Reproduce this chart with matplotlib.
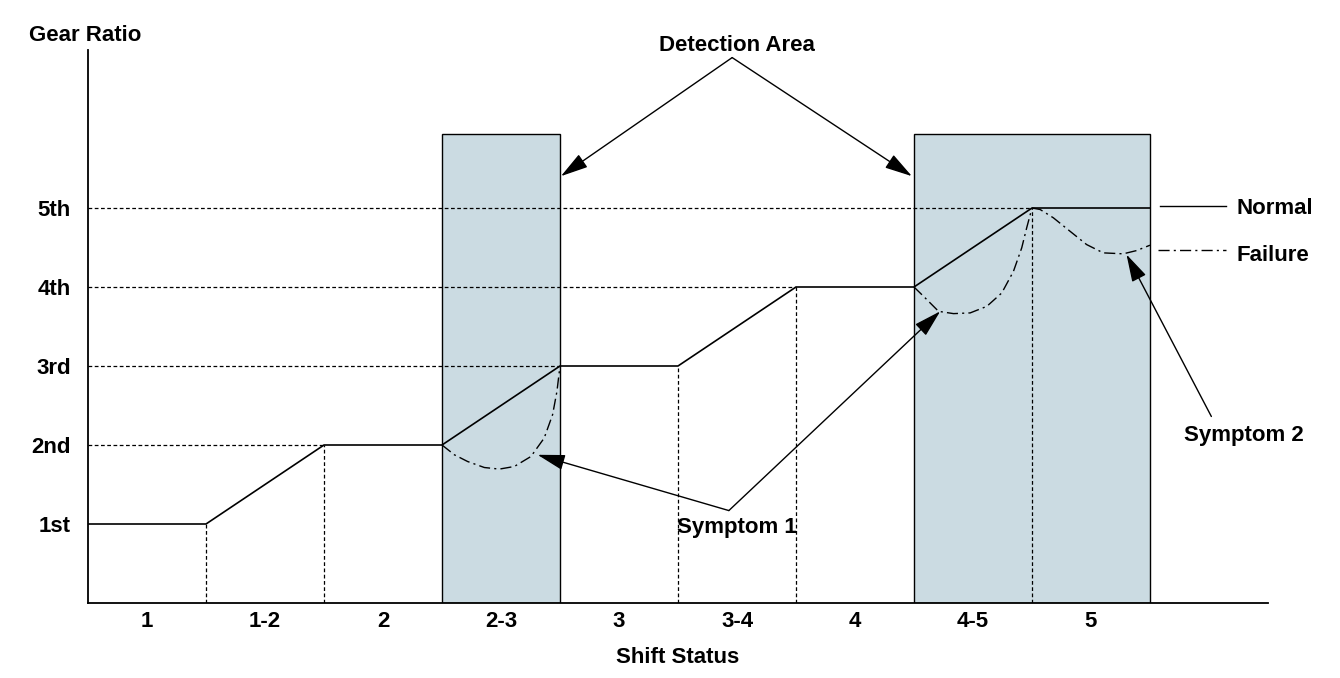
import matplotlib.pyplot as plt

plt.rcParams["font.family"] = ["Liberation Sans", "DejaVu Sans"]
plt.rcParams["font.weight"] = "bold"
plt.rcParams["font.size"] = 16

# shift states along the x axis, one unit each
shift_labels = ["1", "1-2", "2", "2-3", "3", "3-4", "4", "4-5", "5"]
gear_labels = ["1st", "2nd", "3rd", "4th", "5th"]
gear_levels = [1, 2, 3, 4, 5]

# normal gear ratio trace
normal_x = [0, 1, 2, 3, 4, 5, 6, 7, 8, 9]
normal_y = [1, 1, 2, 2, 3, 3, 4, 4, 5, 5]

# failure traces
fail_23_x = [3.0, 3.105, 3.217, 3.359, 3.486, 3.613, 3.754, 3.866, 3.937, 3.974, 4.0]
fail_23_y = [2.0, 1.876, 1.791, 1.715, 1.695, 1.728, 1.855, 2.088, 2.383, 2.678, 3.0]
fail_45_x = [7.0, 7.081, 7.208, 7.335, 7.476, 7.617, 7.744, 7.843, 7.913, 7.955, 8.0]
fail_45_y = [4.0, 3.882, 3.692, 3.663, 3.672, 3.755, 3.925, 4.199, 4.496, 4.749, 5.0]
fail_5_x = [8.0, 8.069, 8.181, 8.322, 8.463, 8.604, 8.773, 8.886, 9.0]
fail_5_y = [5.0, 4.981, 4.876, 4.706, 4.537, 4.432, 4.42, 4.461, 4.529]

# detection areas
detect_left = [3, 7]
detect_width = [1, 2]
detect_top = 5.94

fig = plt.figure(figsize=(13.4, 6.78), dpi=100)
ax = fig.add_axes([88 / 1340, 75 / 678, 1180 / 1340, 553 / 678])
ax.set_xlim(0, 10)
ax.set_ylim(0, 7)

ax.bar(detect_left, detect_top, width=detect_width, align="edge",
       color="#cbdbe2", edgecolor="black", linewidth=1, zorder=1)

dash = (0, (3, 2))
# horizontal guides up to where the normal trace reaches each gear
for lvl in gear_levels[1:]:
    reach = normal_x[normal_y.index(lvl)]
    ax.plot([0, reach], [lvl, lvl], color="black", lw=0.9, ls=dash, zorder=2)
# vertical guides at the other shift boundaries
for bx in [1, 2, 5, 6, 8]:
    ax.plot([bx, bx], [0, normal_y[normal_x.index(bx)]],
            color="black", lw=0.9, ls=dash, zorder=2)

ax.plot(normal_x, normal_y, color="black", lw=1.2, zorder=3)
fail_style = dict(color="black", lw=1.0, ls=(0, (8, 3, 1.5, 3)), zorder=3)
for fx, fy in [(fail_23_x, fail_23_y), (fail_45_x, fail_45_y), (fail_5_x, fail_5_y)]:
    ax.plot(fx, fy, **fail_style)

# legend drawn beside the traces
ax.plot([9.086, 9.645], [5.02, 5.02], color="black", lw=1.0, clip_on=False)
ax.text(9.73, 4.99, "Normal", va="center", ha="left")
ax.plot([9.07, 9.645], [4.474, 4.474], clip_on=False,
        **{k: v for k, v in fail_style.items() if k != "zorder"})
ax.text(9.73, 4.40, "Failure", va="center", ha="left")

arrow = dict(arrowstyle="-|>,head_length=0.85,head_width=0.24", color="black",
             lw=1.0, shrinkA=0, shrinkB=0, mutation_scale=20)
ax.text(5.5, 7.06, "Detection Area", ha="center", va="center", clip_on=False)
for head in [(4.008, 5.403), (6.982, 5.403)]:
    ax.annotate("", xy=head, xytext=(5.459, 6.904), arrowprops=arrow,
                annotation_clip=False)
ax.text(5.502, 0.96, "Symptom 1", ha="center", va="center")
for head in [(3.81, 1.876), (7.222, 3.692)]:
    ax.annotate("", xy=head, xytext=(5.431, 1.17), arrowprops=arrow)
ax.text(9.794, 2.12, "Symptom 2", ha="center", va="center")
ax.annotate("", xy=(8.801, 4.411), xytext=(9.52, 2.361), arrowprops=arrow)

ax.set_xticks([i + 0.5 for i in range(len(shift_labels))])
ax.set_xticklabels(shift_labels)
ax.set_yticks(gear_levels)
ax.set_yticklabels(gear_labels)
ax.tick_params(axis="x", length=0, pad=6)
ax.tick_params(axis="y", length=0, pad=12.5)
ax.set_xlabel("Shift Status", fontweight="bold", labelpad=10.5)
fig.text(29 / 1340, 1 - 41 / 678, "Gear Ratio", ha="left", va="baseline",
         fontweight="bold")

for side in ["top", "right"]:
    ax.spines[side].set_visible(False)
for side in ["left", "bottom"]:
    ax.spines[side].set_linewidth(1.3)

fig.savefig("out.png", dpi=100)
